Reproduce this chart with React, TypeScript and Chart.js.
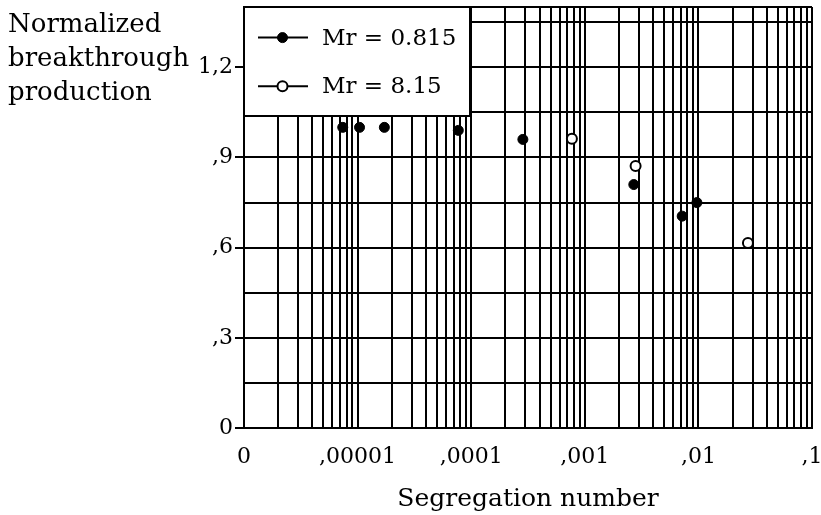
import React, { useEffect, useRef } from 'react';
import { Chart, registerables } from 'chart.js';

Chart.register(...registerables);

// ---- data ----
const seriesNames = ['Mr = 0.815', 'Mr = 8.15'];
const filledX = [7.4e-6, 1.04e-5, 1.72e-5, 7.7e-5, 2.85e-4, 2.7e-3, 7.2e-3, 9.7e-3];
const filledY = [1.0, 1.0, 1.0, 0.99, 0.96, 0.81, 0.705, 0.75];
const openX = [7.7e-4, 2.8e-3, 0.0273];
const openY = [0.962, 0.872, 0.616];

const xDecades = [1e-6, 1e-5, 1e-4, 1e-3, 1e-2, 1e-1];
const xTickLabels = ['0', ',00001', ',0001', ',001', ',01', ',1'];
const yLabelValues = [0, 0.3, 0.6, 0.9, 1.2];
const yTickLabels = ['0', ',3', ',6', ',9', '1,2'];
const yGridValues = [0, 0.15, 0.3, 0.45, 0.6, 0.75, 0.9, 1.05, 1.2, 1.35, 1.4];
const yMin = 0;
const yMax = 1.4;
const xTitle = 'Segregation number';
const yTitleLines = ['Normalized', 'breakthrough', 'production'];

const FONT = '"DejaVu Serif", serif';

function buildXGrid(): number[] {
  const out: number[] = [];
  for (let i = 0; i < xDecades.length - 1; i++) {
    for (let k = 1; k <= 9; k++) out.push(Number((k * xDecades[i]).toPrecision(6)));
  }
  out.push(xDecades[xDecades.length - 1]);
  return out;
}

function yLabelFor(v: number): string {
  const i = yLabelValues.findIndex((t) => Math.abs(t - v) < 1e-6);
  return i >= 0 ? yTickLabels[i] : '';
}

const insideLegend = {
  id: 'insideLegend',
  afterDraw(chart: any) {
    const { ctx, chartArea } = chart;
    const x0 = chartArea.left;
    const y0 = chartArea.top;
    const w = 226;
    const h = 109;
    ctx.save();
    ctx.fillStyle = '#fff';
    ctx.fillRect(x0, y0, w, h);
    ctx.lineWidth = 2;
    ctx.strokeStyle = '#000';
    ctx.strokeRect(x0, y0, w, h);
    chart.data.datasets.forEach((ds: any, i: number) => {
      const cy = y0 + 30.6 + i * 48.7;
      ctx.beginPath();
      ctx.moveTo(x0 + 14, cy);
      ctx.lineTo(x0 + 64, cy);
      ctx.lineWidth = 2;
      ctx.strokeStyle = '#000';
      ctx.stroke();
      ctx.beginPath();
      ctx.arc(x0 + 38.5, cy, 5, 0, Math.PI * 2);
      ctx.fillStyle = ds.pointBackgroundColor;
      ctx.fill();
      ctx.lineWidth = ds.pointBorderWidth;
      ctx.stroke();
      ctx.fillStyle = '#000';
      ctx.font = '23px ' + FONT;
      ctx.textBaseline = 'middle';
      ctx.textAlign = 'left';
      ctx.fillText(ds.label, x0 + 78, cy + 1);
    });
    ctx.restore();
  },
};

const yTitlePlugin = {
  id: 'yTitleBlock',
  afterDraw(chart: any) {
    const { ctx } = chart;
    ctx.save();
    ctx.fillStyle = '#000';
    ctx.font = '26px ' + FONT;
    ctx.textBaseline = 'alphabetic';
    ctx.textAlign = 'left';
    yTitleLines.forEach((line, i) => ctx.fillText(line, 8, 32 + i * 34.2));
    ctx.restore();
  },
};

export default function App() {
  const ref = useRef<HTMLCanvasElement | null>(null);

  useEffect(() => {
    if (!ref.current) return;
    const xGrid = buildXGrid();
    const chart = new Chart(ref.current, {
      type: 'scatter',
      data: {
        datasets: [
          {
            label: seriesNames[0],
            data: filledX.map((x, i) => ({ x, y: filledY[i] })),
            pointRadius: 5,
            pointBackgroundColor: '#000',
            pointBorderColor: '#000',
            pointBorderWidth: 1,
            showLine: false,
          },
          {
            label: seriesNames[1],
            data: openX.map((x, i) => ({ x, y: openY[i] })),
            pointRadius: 5,
            pointBackgroundColor: '#fff',
            pointBorderColor: '#000',
            pointBorderWidth: 2,
            showLine: false,
          },
        ],
      },
      options: {
        animation: false,
        responsive: false,
        layout: { padding: { left: 0, top: 7, right: 9, bottom: 0 } },
        plugins: { legend: { display: false }, tooltip: { enabled: false }, title: { display: false } },
        scales: {
          x: {
            type: 'logarithmic',
            min: xDecades[0],
            max: xDecades[xDecades.length - 1],
            afterBuildTicks: (scale: any) => {
              scale.ticks = xGrid.map((v) => ({ value: v }));
            },
            afterFit: (scale: any) => {
              scale.height = 86.7;
              scale.paddingLeft = 0;
              scale.paddingRight = 0;
            },
            grid: { color: '#000', lineWidth: 2, drawTicks: false },
            border: { display: true, color: '#000', width: 2 },
            ticks: {
              autoSkip: false,
              maxRotation: 0,
              padding: 16,
              color: '#000',
              font: { family: FONT, size: 22 },
              callback: (value: any) => {
                const v = Number(value);
                const di = xDecades.findIndex((d) => Math.abs(d - v) / d < 1e-6);
                return di >= 0 ? xTickLabels[di] : '';
              },
            },
            title: {
              display: true,
              text: xTitle,
              color: '#000',
              font: { family: FONT, size: 25 },
              padding: { top: 0, bottom: 1 },
            },
          },
          y: {
            type: 'linear',
            min: yMin,
            max: yMax,
            afterBuildTicks: (scale: any) => {
              scale.ticks = yGridValues.map((v) => ({ value: v }));
            },
            afterFit: (scale: any) => {
              scale.width = 244;
              scale.paddingTop = 0;
              scale.paddingBottom = 0;
            },
            grid: {
              color: '#000',
              lineWidth: 2,
              drawTicks: true,
              tickLength: 9,
              tickWidth: 2,
              tickColor: (c: any) => (c.tick && yLabelFor(c.tick.value) !== '' ? '#000' : 'rgba(0,0,0,0)'),
            },
            border: { display: true, color: '#000', width: 2 },
            ticks: {
              autoSkip: false,
              padding: 2,
              color: '#000',
              font: { family: FONT, size: 22 },
              callback: (value: any) => yLabelFor(Number(value)),
            },
          },
        },
      },
      plugins: [insideLegend, yTitlePlugin],
    } as any);
    return () => chart.destroy();
  }, []);

  return (
    <div style={{ position: 'absolute', left: 0, top: 0, width: 821, height: 515, background: '#fff' }}>
      <canvas ref={ref} width={821} height={515} style={{ width: 821, height: 515, display: 'block' }} />
    </div>
  );
}
